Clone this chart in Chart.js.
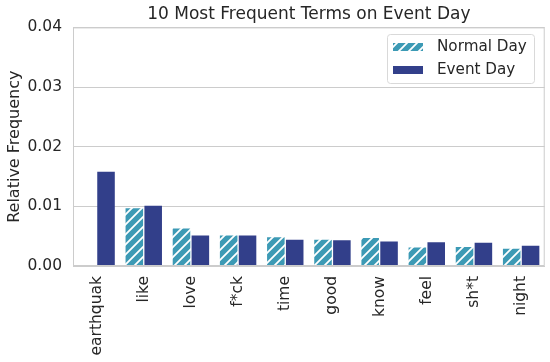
<!DOCTYPE html>
<html>
<head>
<meta charset="utf-8">
<script src="https://cdn.jsdelivr.net/npm/chart.js@4.4.0/dist/chart.umd.min.js"></script>
<style>
  html, body { margin: 0; padding: 0; background: #fff; }
  #wrap { width: 550px; height: 362px; }
</style>
</head>
<body>
<div id="wrap"><canvas id="chart" width="550" height="362"></canvas></div>
<script>
// DATA
const terms = ["earthquak", "like", "love", "f*ck", "time", "good", "know", "feel", "sh*t", "night"];
const normalDay = [0, 0.0097, 0.0063, 0.0051, 0.0048, 0.0044, 0.0047, 0.0031, 0.0032, 0.0029];
const eventDay = [0.0158, 0.0101, 0.0051, 0.0051, 0.0044, 0.0043, 0.0041, 0.0040, 0.0039, 0.0034];
const yTicks = [0, 0.01, 0.02, 0.03, 0.04];
const seriesNames = ["Normal Day", "Event Day"];

const TEAL = "rgb(60, 154, 181)";
const NAVY = "rgb(50, 63, 138)";
const FONT = "'DejaVu Sans', sans-serif";
const TEXT = "#262626";

// hatched fill like matplotlib '//'
function hatch(color) {
    const s = 10;
    const c = document.createElement("canvas");
    c.width = s;
    c.height = s;
    const g = c.getContext("2d");
    g.fillStyle = color;
    g.fillRect(0, 0, s, s);
    g.strokeStyle = "#fff";
    g.lineWidth = 1.8;
    g.beginPath();
    g.moveTo(0, s); g.lineTo(s, 0);
    g.moveTo(-3, 3); g.lineTo(3, -3);
    g.moveTo(s - 3, s + 3); g.lineTo(s + 3, s - 3);
    g.stroke();
    return g.createPattern(c, "repeat");
}
const normalFill = hatch(TEAL);

// frame + legend box
const framePlugin = {
    id: "frame",
    afterDraw(chart) {
        const { ctx, chartArea: a } = chart;
        ctx.save();
        ctx.strokeStyle = "#cccccc";
        ctx.lineWidth = 1;
        ctx.strokeRect(a.left + 0.5, a.top + 0.5, a.right - a.left - 1, a.bottom - a.top - 1);

        // legend
        const bx = 387, by = 34, bw = 147, bh = 49;
        ctx.beginPath();
        ctx.roundRect(bx + 0.5, by + 0.5, bw, bh, 3);
        ctx.fillStyle = "rgba(255,255,255,0.9)";
        ctx.fill();
        ctx.strokeStyle = "#d9d9d9";
        ctx.stroke();
        const fills = [normalFill, NAVY];
        ctx.font = "15.2px " + FONT;
        ctx.textBaseline = "middle";
        seriesNames.forEach((name, i) => {
            const cy = 47 + i * 23;
            ctx.fillStyle = fills[i];
            ctx.fillRect(393, cy - 4, 30, 8);
            ctx.fillStyle = TEXT;
            ctx.fillText(name, 437, cy);
        });
        ctx.restore();
    },
};

const chart = new Chart(document.getElementById("chart"), {
    type: "bar",
    data: {
        labels: terms,
        datasets: [
            {
                label: seriesNames[0],
                data: normalDay,
                backgroundColor: normalFill,
                categoryPercentage: 0.8,
                barPercentage: 0.93,
            },
            {
                label: seriesNames[1],
                data: eventDay,
                backgroundColor: NAVY,
                categoryPercentage: 0.8,
                barPercentage: 0.93,
            },
        ],
    },
    options: {
        responsive: false,
        animation: false,
        layout: { padding: { top: 0, right: 1, left: 0, bottom: 0 } },
        plugins: {
            legend: { display: false },
            tooltip: { enabled: false },
            title: {
                display: true,
                fullSize: false,
                text: "10 Most Frequent Terms on Event Day",
                color: TEXT,
                font: { family: FONT, size: 17, weight: "normal", lineHeight: 1.2 },
                padding: { top: 4, bottom: 3 },
            },
        },
        scales: {
            x: {
                grid: { display: false, drawTicks: false },
                border: { color: "#cccccc" },
                ticks: {
                    color: TEXT,
                    font: { family: FONT, size: 15.5 },
                    minRotation: 90,
                    maxRotation: 90,
                    autoSkip: false,
                    padding: 10,
                },
                afterFit(scale) { scale.height = 96; },
            },
            y: {
                min: 0,
                max: 0.04,
                grid: { color: "#cccccc", drawTicks: false },
                border: { color: "#cccccc" },
                afterBuildTicks(scale) { scale.ticks = yTicks.map((v) => ({ value: v })); },
                ticks: {
                    color: TEXT,
                    font: { family: FONT, size: 15.5 },
                    padding: 11,
                    callback: (v) => Number(v).toFixed(2),
                },
                title: {
                    display: true,
                    text: "Relative Frequency",
                    color: TEXT,
                    font: { family: FONT, size: 16 },
                    padding: { top: 5, bottom: 0 },
                },
                afterFit(scale) { scale.width = 73; },
            },
        },
    },
    plugins: [framePlugin],
});
</script>
</body>
</html>
